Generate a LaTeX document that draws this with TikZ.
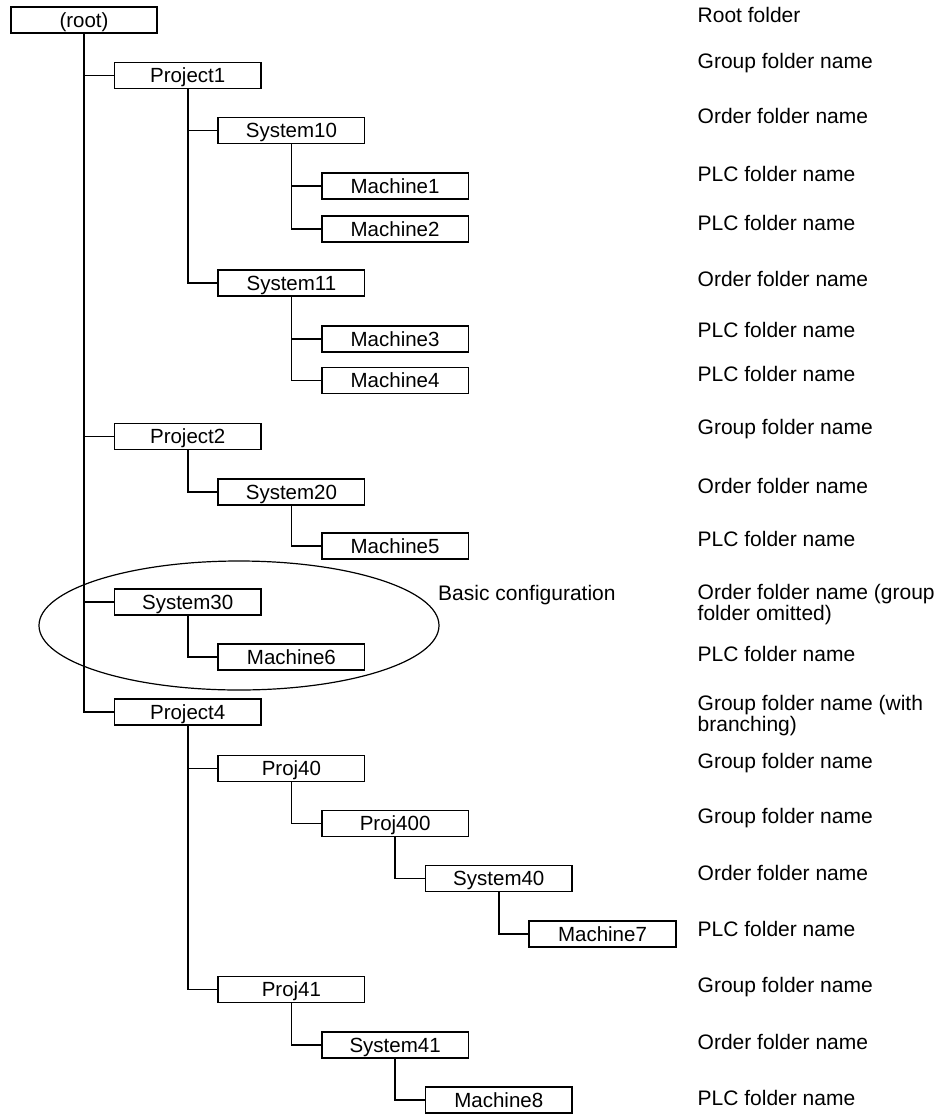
\documentclass[tikz,border=0pt]{standalone}
\usepackage{fontspec}
\setmainfont{Liberation Sans}
\tikzset{
  folder/.style={draw, line width=1.6pt, minimum width=146.5pt, minimum height=26pt,
    inner sep=0pt, text height=14.7pt, text depth=0pt,
    font=\fontsize{20.5}{20.5}\selectfont},
  link/.style={line width=1.6pt},
  note/.style={anchor=base west, inner sep=0pt, align=left,
    font=\fontsize{21}{18.3}\selectfont},
}
\begin{document}
\begin{tikzpicture}[x=1pt, y=-1pt]
  \useasboundingbox (0,0) rectangle (952,1114);

  % folder tree (x = column centre, y = row centre)
  \node[folder] (root)     at (84,20)      {(root)};
  \node[folder] (project1) at (187.7,75.5) {Project1};
  \node[folder] (system10) at (291.4,130.5){System10};
  \node[folder] (machine1) at (395.1,186)  {Machine1};
  \node[folder] (machine2) at (395.1,228.7){Machine2};
  \node[folder] (system11) at (291.4,283)  {System11};
  \node[folder] (machine3) at (395.1,338.7){Machine3};
  \node[folder] (machine4) at (395.1,380.5){Machine4};
  \node[folder] (project2) at (187.7,436.3){Project2};
  \node[folder] (system20) at (291.4,491.7){System20};
  \node[folder] (machine5) at (395.1,546.2){Machine5};
  \node[folder] (system30) at (187.7,602)  {System30};
  \node[folder] (machine6) at (291.4,657)  {Machine6};
  \node[folder] (project4) at (187.7,712)  {Project4};
  \node[folder] (proj40)   at (291.4,768.3){Proj40};
  \node[folder] (proj400)  at (395.1,823.3){Proj400};
  \node[folder] (system40) at (498.8,878.5){System40};
  \node[folder] (machine7) at (602.5,934)  {Machine7};
  \node[folder] (proj41)   at (291.4,989.5){Proj41};
  \node[folder] (system41) at (395.1,1045) {System41};
  \node[folder] (machine8) at (498.8,1100) {Machine8};

  % branches: down from the parent, across to the child
  \foreach \p/\c in {root/project1, root/project2, root/system30, root/project4,
      project1/system10, project1/system11,
      system10/machine1, system10/machine2,
      system11/machine3, system11/machine4,
      project2/system20, system20/machine5,
      system30/machine6,
      project4/proj40, project4/proj41,
      proj40/proj400, proj400/system40, system40/machine7,
      proj41/system41, system41/machine8}
    \draw[link] (\p.south) |- (\c.west);

  % basic configuration outline
  \draw[line width=1.2pt] (239,625.5) ellipse [x radius=200, y radius=64.5];
  \node[note] (basic) at (438,600) {Basic configuration};

  % folder roles (two-line notes are anchored on their last line)
  \node[note] (n1)  at (697.5,22)    {Root folder};
  \node[note] (n2)  at (697.5,68)    {Group folder name};
  \node[note] (n3)  at (697.5,123)   {Order folder name};
  \node[note] (n4)  at (697.5,181.7) {PLC folder name};
  \node[note] (n5)  at (697.5,230)   {PLC folder name};
  \node[note] (n6)  at (697.5,286)   {Order folder name};
  \node[note] (n7)  at (697.5,337.7) {PLC folder name};
  \node[note] (n8)  at (697.5,381.7) {PLC folder name};
  \node[note] (n9)  at (697.5,434)   {Group folder name};
  \node[note] (n10) at (697.5,493)   {Order folder name};
  \node[note] (n11) at (697.5,546)   {PLC folder name};
  \node[note] (n12) at (697.5,620)   {Order folder name (group\\folder omitted)};
  \node[note] (n13) at (697.5,661.7) {PLC folder name};
  \node[note] (n14) at (697.5,731)   {Group folder name (with\\branching)};
  \node[note] (n15) at (697.5,768)   {Group folder name};
  \node[note] (n16) at (697.5,823)   {Group folder name};
  \node[note] (n17) at (697.5,880)   {Order folder name};
  \node[note] (n18) at (697.5,936)   {PLC folder name};
  \node[note] (n19) at (697.5,992)   {Group folder name};
  \node[note] (n20) at (697.5,1049)  {Order folder name};
  \node[note] (n21) at (697.5,1105)  {PLC folder name};
\end{tikzpicture}
\end{document}
